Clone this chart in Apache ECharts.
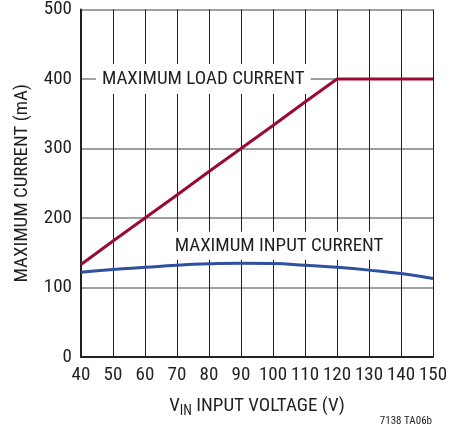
<!DOCTYPE html>
<html><head><meta charset="utf-8">
<script src="https://cdn.jsdelivr.net/npm/echarts@6/dist/echarts.min.js"></script>
<style>html,body{margin:0;padding:0;background:#fff}#c{width:457px;height:431px}</style>
</head><body><div id="c"></div>
<script>
var vin = [40, 50, 60, 70, 80, 90, 100, 110, 120, 130, 140, 150];
var loadCurrent = [133, 167, 200, 233, 267, 300, 333, 367, 400, 400, 400, 400];
var inputCurrent = [122, 126, 129, 132, 134, 135, 134.5, 132, 129, 125, 120, 113];
var xTicks = [40, 150, 10];
var yTicks = [0, 500, 100];
var FONT = '"Roboto Condensed", "Liberation Sans", Arial, sans-serif';
var chart = echarts.init(document.getElementById('c'));
function pairs(xs, ys){ return xs.map(function(x,i){return [x, ys[i]];}); }
chart.setOption({
  animation: false,
  grid: {left: 81, right: 24, top: 6, bottom: 74},
  xAxis: {
    type: 'value', min: xTicks[0], max: xTicks[1], interval: xTicks[2],
    name: '{a|V}{s|IN}{a| INPUT VOLTAGE (V)}', nameLocation: 'middle', nameGap: 37,
    nameTextStyle: {rich: {a: {fontFamily: FONT, fontSize: 19, color: '#231f20'}, s: {fontFamily: FONT, fontSize: 14, color: '#231f20', padding: [10,0,0,0]}}},
    axisLine: {show: true, lineStyle: {color: '#231f20', width: 2}},
    axisTick: {show: false},
    axisLabel: {fontFamily: FONT, fontSize: 19, color: '#231f20', margin: 9},
    splitLine: {show: true, lineStyle: {color: '#231f20', width: 1}}
  },
  yAxis: {
    type: 'value', min: yTicks[0], max: yTicks[1], interval: yTicks[2],
    name: 'MAXIMUM CURRENT (mA)', nameLocation: 'middle', nameGap: 49,
    nameTextStyle: {fontFamily: FONT, fontSize: 19, color: '#231f20'},
    axisLine: {show: true, lineStyle: {color: '#231f20', width: 2}},
    axisTick: {show: false},
    axisLabel: {fontFamily: FONT, fontSize: 19, color: '#231f20', margin: 9},
    splitLine: {show: true, lineStyle: {color: '#808080', width: 1.5}}
  },
  series: [
    {type: 'line', data: pairs(vin, loadCurrent), symbol: 'none',
     lineStyle: {color: '#9b0a33', width: 3}, z: 3,
     markPoint: {symbol: 'rect', symbolSize: 0, silent: true, z: 10,
       data: [{coord: [78.2, 400], label: {show: true, position: 'inside', formatter: 'MAXIMUM LOAD CURRENT',
         fontFamily: FONT, fontSize: 19, color: '#231f20', backgroundColor: '#fff', padding: [6, 6, 5, 6]}}]}},
    {type: 'line', data: pairs(vin, inputCurrent), symbol: 'none', smooth: true,
     lineStyle: {color: '#2f4f9f', width: 3}, z: 3,
     markPoint: {symbol: 'rect', symbolSize: 0, silent: true, z: 10,
       data: [{coord: [101.9, 160], label: {show: true, position: 'inside', formatter: 'MAXIMUM INPUT CURRENT',
         fontFamily: FONT, fontSize: 19, color: '#231f20', backgroundColor: '#fff', padding: [5, 6, 4, 6]}}]}}
  ],
  graphic: [
    {type: 'text', right: 25, top: 416, style: {text: '7138 TA06b', fontFamily: FONT, fontSize: 11, fill: '#231f20'}}
  ]
});
</script></body></html>
